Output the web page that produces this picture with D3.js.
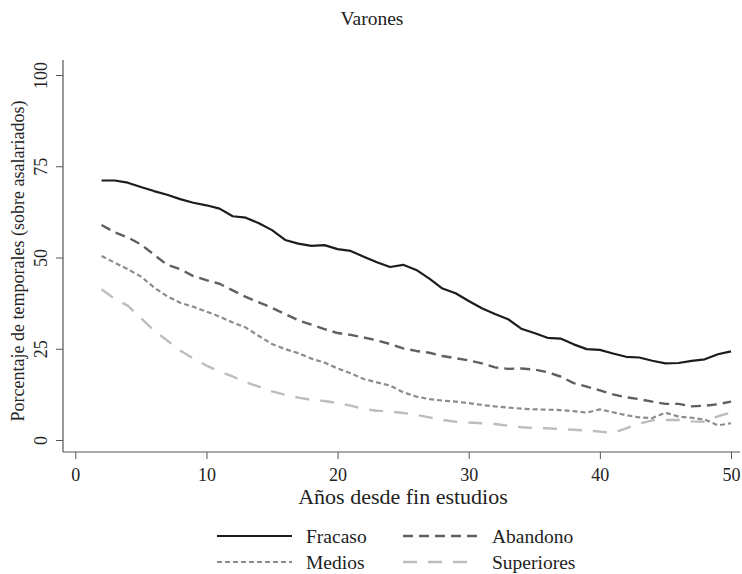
<!DOCTYPE html>
<html>
<head>
<meta charset="utf-8">
<script src="https://cdn.jsdelivr.net/npm/d3@7"></script>
<style>
  body { margin: 0; background: #fff; }
  svg { display: block; font-family: "Liberation Serif", "Times New Roman", serif; }
</style>
</head>
<body>
<svg id="chart" width="742" height="574"></svg>
<script>
const years = d3.range(2, 51);
const fracaso = [71.1,71.1,70.5,69.3,68.2,67.2,66.0,65.0,64.3,63.4,61.3,60.9,59.4,57.5,54.8,53.8,53.2,53.4,52.3,51.8,50.2,48.7,47.4,48.0,46.6,44.2,41.5,40.2,38.1,36.1,34.5,33.1,30.5,29.3,28.0,27.8,26.2,24.9,24.7,23.7,22.8,22.6,21.7,21.0,21.1,21.7,22.1,23.5,24.3];
const abandono = [58.9,56.9,55.5,53.6,50.8,48.0,46.8,44.9,43.8,42.8,41.0,39.2,37.7,36.2,34.5,32.8,31.6,30.4,29.3,28.8,28.1,27.3,26.3,25.1,24.4,23.9,23.0,22.4,21.8,21.0,19.9,19.5,19.6,19.3,18.6,17.4,15.6,14.6,13.6,12.5,11.7,11.2,10.5,9.9,9.9,9.2,9.4,9.8,10.5];
const medios = [50.4,48.6,46.8,44.8,41.8,39.4,37.6,36.5,35.2,33.8,32.2,30.8,28.5,26.3,24.9,23.8,22.3,21.2,19.6,18.3,16.7,15.8,14.9,13.1,11.9,11.2,10.8,10.5,10.1,9.6,9.2,8.9,8.6,8.4,8.3,8.2,7.9,7.5,8.4,7.6,6.8,6.2,6.0,7.5,6.4,6.1,5.6,4.0,4.6];
const superiores = [41.3,38.7,36.8,33.4,30.0,27.3,24.5,22.3,20.4,18.8,17.4,15.8,14.6,13.3,12.4,11.6,11.0,10.7,10.1,9.4,8.5,8.0,7.8,7.4,6.9,6.2,5.5,5.0,4.8,4.6,4.4,3.9,3.5,3.3,3.2,3.0,2.8,2.6,2.3,1.9,3.2,4.5,5.4,5.5,5.5,5.1,5.0,6.5,7.5];
const seriesNames = ["Fracaso", "Abandono", "Medios", "Superiores"];
const xTicks = [0, 10, 20, 30, 40, 50];
const yTicks = [0, 25, 50, 75, 100];

const styles = {
  "Fracaso":    { color: "#1c1c1c", dash: null,    width: 2.2 },
  "Abandono":   { color: "#5f5f5f", dash: "10,6",  width: 2.4 },
  "Medios":     { color: "#8c8c8c", dash: "5,3",   width: 2.2 },
  "Superiores": { color: "#bdbdbd", dash: "14,11", width: 2.4 }
};
const dataMap = { "Fracaso": fracaso, "Abandono": abandono, "Medios": medios, "Superiores": superiores };

const svg = d3.select("#chart");
const x = d3.scaleLinear().domain([0, 50]).range([75.3, 731]);
const y = d3.scaleLinear().domain([0, 100]).range([440, 75]);
const axisColor = "#555";
const textColor = "#222";

// Title
svg.append("text").attr("x", 372).attr("y", 25).attr("text-anchor", "middle")
  .attr("font-size", 19.5).attr("fill", textColor).text("Varones");

// Y axis
const gy = svg.append("g").attr("transform", "translate(63,0)")
  .call(d3.axisLeft(y).tickValues(yTicks).tickSize(7).tickSizeOuter(0));
gy.select(".domain").remove();
gy.append("line").attr("x1", 0).attr("x2", 0).attr("y1", 60).attr("y2", 452)
  .attr("stroke", axisColor).attr("stroke-width", 1.2);
gy.selectAll(".tick line").attr("stroke", axisColor).attr("stroke-width", 1);
gy.selectAll(".tick text")
  .attr("transform", "rotate(-90)")
  .attr("x", 0).attr("y", -16.5).attr("dy", 0)
  .attr("text-anchor", "middle")
  .attr("font-size", 18).attr("fill", textColor)
  .attr("font-family", "Liberation Serif, serif");

// X axis
const gx = svg.append("g").attr("transform", "translate(0,452)")
  .call(d3.axisBottom(x).tickValues(xTicks).tickSize(7).tickSizeOuter(0));
gx.select(".domain").remove();
gx.append("line").attr("x1", 63).attr("x2", 740).attr("y1", 0).attr("y2", 0)
  .attr("stroke", axisColor).attr("stroke-width", 1.2);
gx.selectAll(".tick line").attr("stroke", axisColor).attr("stroke-width", 1);
gx.selectAll(".tick text")
  .attr("y", 28.5).attr("dy", 0)
  .attr("font-size", 18).attr("fill", textColor)
  .attr("font-family", "Liberation Serif, serif");

// Axis titles
svg.append("text").attr("x", 403).attr("y", 504).attr("text-anchor", "middle")
  .attr("font-size", 22).attr("fill", textColor).text("Años desde fin estudios");
svg.append("text").attr("transform", "translate(24,261) rotate(-90)")
  .attr("text-anchor", "middle").attr("font-size", 18).attr("fill", textColor)
  .text("Porcentaje de temporales (sobre asalariados)");

// Lines
const line = d3.line().x((d, i) => x(years[i])).y(d => y(d));
[...seriesNames].reverse().forEach(name => {
  const s = styles[name];
  svg.append("path").datum(dataMap[name])
    .attr("fill", "none").attr("stroke", s.color).attr("stroke-width", s.width)
    .attr("stroke-dasharray", s.dash).attr("stroke-linejoin", "round")
    .attr("d", line);
});

// Legend
const legendPos = [
  { name: "Fracaso",    x: 217, y: 536 },
  { name: "Abandono",   x: 403, y: 536 },
  { name: "Medios",     x: 217, y: 562 },
  { name: "Superiores", x: 403, y: 562 }
];
legendPos.forEach(p => {
  const s = styles[p.name];
  svg.append("line").attr("x1", p.x).attr("x2", p.x + 75).attr("y1", p.y).attr("y2", p.y)
    .attr("stroke", s.color).attr("stroke-width", s.width).attr("stroke-dasharray", s.dash);
  svg.append("text").attr("x", p.x + 89).attr("y", p.y + 6.5)
    .attr("font-size", 19.5).attr("fill", textColor).text(p.name);
});
</script>
</body>
</html>
